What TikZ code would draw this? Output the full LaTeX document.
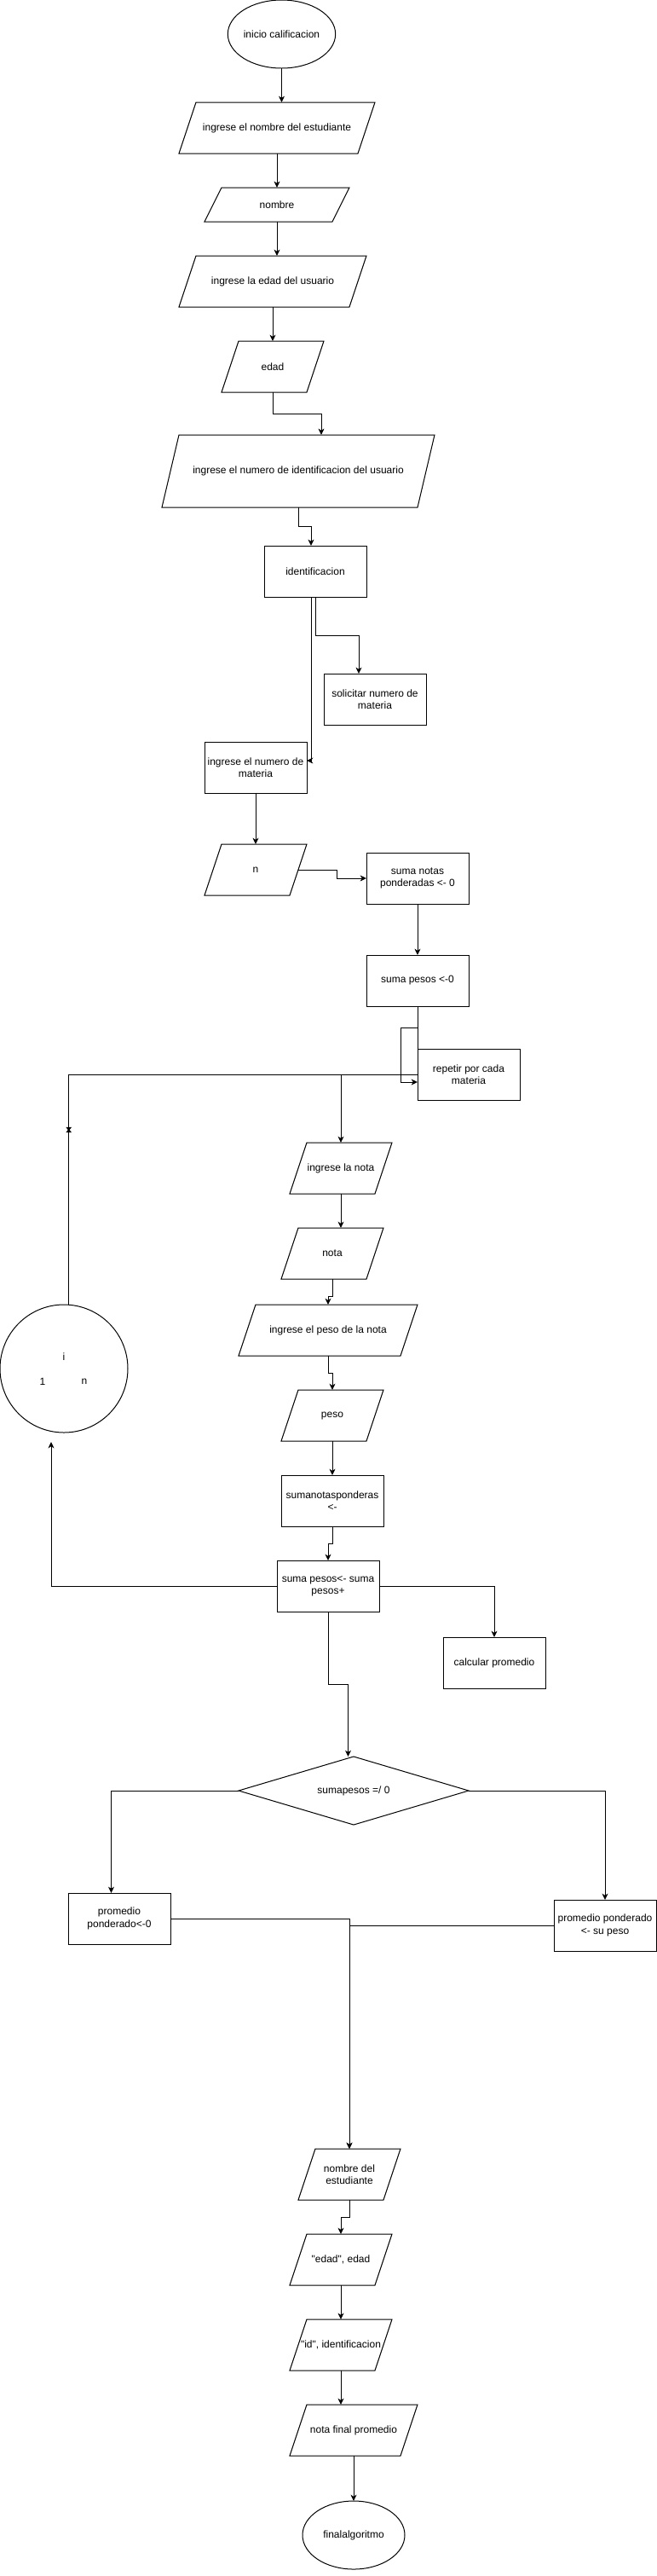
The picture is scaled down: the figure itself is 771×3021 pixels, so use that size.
\documentclass[tikz,border=0pt]{standalone}
\usepackage{fontspec}
\setmainfont{Liberation Sans}[Ligatures=TeXOff]
\usetikzlibrary{shapes.geometric,arrows.meta,calc}
\tikzset{
  txt/.style={inner sep=0pt,outer sep=0pt,align=center,font=\fontsize{9}{10.8}\selectfont},
  shp/.style={draw=black,line width=0.75pt},
  arr/.style={draw=black,line width=0.75pt,-{Stealth[length=5.5pt,width=5.2pt,inset=1.6pt]}},
  ln/.style={draw=black,line width=0.75pt}
}
\newcommand{\ioshape}[6]{%
  \node[txt,minimum width={#4*0.75pt},minimum height={#5*0.75pt}] (#1) at (#2,#3) {#6};
  \draw[shp] ([xshift=15pt]#1.north west) -- (#1.north east) -- ([xshift=-15pt]#1.south east) -- (#1.south west) -- cycle;}
\newcommand{\procbox}[6]{%
  \node[txt,shp,minimum width={#4*0.75pt},minimum height={#5*0.75pt}] (#1) at (#2,#3) {#6};}
\begin{document}
\begin{tikzpicture}[x=0.75pt,y=-0.75pt]
\useasboundingbox (0,0) rectangle (771,3021);
% start
\node[txt,shp,ellipse,minimum width={121*0.75pt},minimum height={80*0.75pt}] (start) at (330.5,40) {inicio calificacion};
\ioshape{p1}{325}{150}{230}{60}{ingrese el nombre del estudiante}
\ioshape{p2}{325}{240}{170}{40}{nombre}
\ioshape{p3}{320}{330}{220}{60}{ingrese la edad del usuario}
\ioshape{p4}{320}{430}{120}{60}{edad}
\ioshape{p5}{350}{552.5}{320}{85}{ingrese el numero de identificacion del usuario}
\procbox{r1}{370}{670}{120}{60}{identificacion}
\procbox{r2}{440}{820}{120}{60}{solicitar numero de\\materia}
\procbox{r3}{300}{900}{120}{60}{ingrese el numero de\\materia}
\ioshape{p6}{300}{1020}{120}{60}{n}
\procbox{r4}{490}{1030}{120}{60}{suma notas\\ponderadas <- 0}
\procbox{r5}{490}{1150}{120}{60}{suma pesos <-0}
\procbox{r6}{550}{1260}{120}{60}{repetir por cada\\materia}
\ioshape{p7}{400}{1370}{120}{60}{ingrese la nota}
\ioshape{p8}{390}{1470}{120}{60}{nota}
\ioshape{p9}{385}{1560}{210}{60}{ingrese el peso de la nota}
\ioshape{p10}{390}{1660}{120}{60}{peso}
\procbox{r7}{390}{1760}{120}{60}{sumanotasponderas\\<-}
\procbox{r8}{385}{1860}{120}{60}{suma pesos<- suma\\pesos+}
\procbox{r9}{580}{1950}{120}{60}{calcular promedio}
\node[txt,minimum width={270*0.75pt},minimum height={80*0.75pt}] (d1) at (415,2100) {sumapesos =/ 0};
\draw[shp] (d1.north) -- (d1.east) -- (d1.south) -- (d1.west) -- cycle;
\procbox{r10}{140}{2250}{120}{60}{promedio\\ponderado<-0}
\procbox{r11}{710}{2258}{120}{60}{promedio ponderado\\<- su peso}
\ioshape{p11}{410}{2550}{120}{60}{nombre del\\estudiante}
\ioshape{p12}{400}{2650}{120}{60}{"edad", edad}
\ioshape{p13}{400}{2750}{120}{60}{"id", identificacion}
\ioshape{p14}{415}{2850}{150}{60}{nota final promedio}
\node[txt,shp,ellipse,minimum width={120*0.75pt},minimum height={80*0.75pt}] (end) at (415,2973) {finalalgoritmo};
% loop circle
\node[shp,circle,inner sep=0pt,outer sep=0pt,minimum size={150*0.75pt}] (circ) at (75,1605) {};
\node[txt] (ci) at (75,1591) {i};
\node[txt] (c1) at (50,1620) {1};
\node[txt] (cn) at (99,1620) {n};
% connectors
\draw[arr] (start.south) -- (start.south |- p1.north);
\draw[arr] (p1.south) -- (p2.north);
\draw[arr] (p2.south) -- (p2.south |- p3.north);
\draw[arr] (p3.south) -- (p4.north);
\draw[arr] (p4.south) -- ++(0,25) -| ($(p5.north)+(27,0)$);
\draw[arr] (p5.south) -- ++(0,22) -| ($(r1.north)+(-5,0)$);
\draw[arr] ($(r1.south)+(-5,0)$) |- ($(r3.east)+(0,-8)$);
\draw[arr] (r1.south) -- ++(0,45) -| ($(r2.north)+(-19,0)$);
\draw[arr] (r3.south) -- (p6.north);
\draw[arr] ($(p6.east)+(-10,0)$) -- ++(45.7,0) |- (r4.west);
\draw[arr] (r4.south) -- (r5.north);
\draw[ln] (r5.south) -- (r6.north west);
\draw[arr] (r5.south) -- ++(0,25) -- ++(-20,0) |- ($(r6.west)+(0,9)$);
\draw[ln] (r6.west) -| ($(circ.north)+(5.7,0)$);
\fill[black] (77.3,1321.8) -- (84.1,1321.8) -- (81.6,1325) -- (84.1,1328.2) -- (77.3,1328.2) -- (79.8,1325) -- cycle;
\draw[arr] (r6.west) -| (p7.north);
\draw[arr] (p7.south) -- (p7.south |- p8.north);
\draw[arr] (p8.south) -- ++(0,20) -| (p9.north);
\draw[arr] (p9.south) -- ++(0,20.7) -| (p10.north);
\draw[arr] (p10.south) -- (r7.north);
\draw[arr] (r7.south) -- ++(0,20) -| (r8.north);
\draw[arr] (r8.west) -| ($(circ.south)+(-15,11)$);
\draw[arr] (r8.east) -| (r9.north);
\draw[arr] (r8.south) -- ++(0,85) -| ($(d1.north)+(-6.5,0)$);
\draw[arr] (d1.west) -| ($(r10.north)+(-9.5,0)$);
\draw[arr] (d1.east) -| (r11.north);
\draw[arr] (r10.east) -| (p11.north);
\draw[arr] (r11.west) -| (p11.north);
\draw[arr] (p11.south) -- ++(0,20) -| (p12.north);
\draw[arr] (p12.south) -- (p13.north);
\draw[arr] (p13.south) -- (p13.south |- p14.north);
\draw[arr] (p14.south) -- (end.north);
\end{tikzpicture}
\end{document}
